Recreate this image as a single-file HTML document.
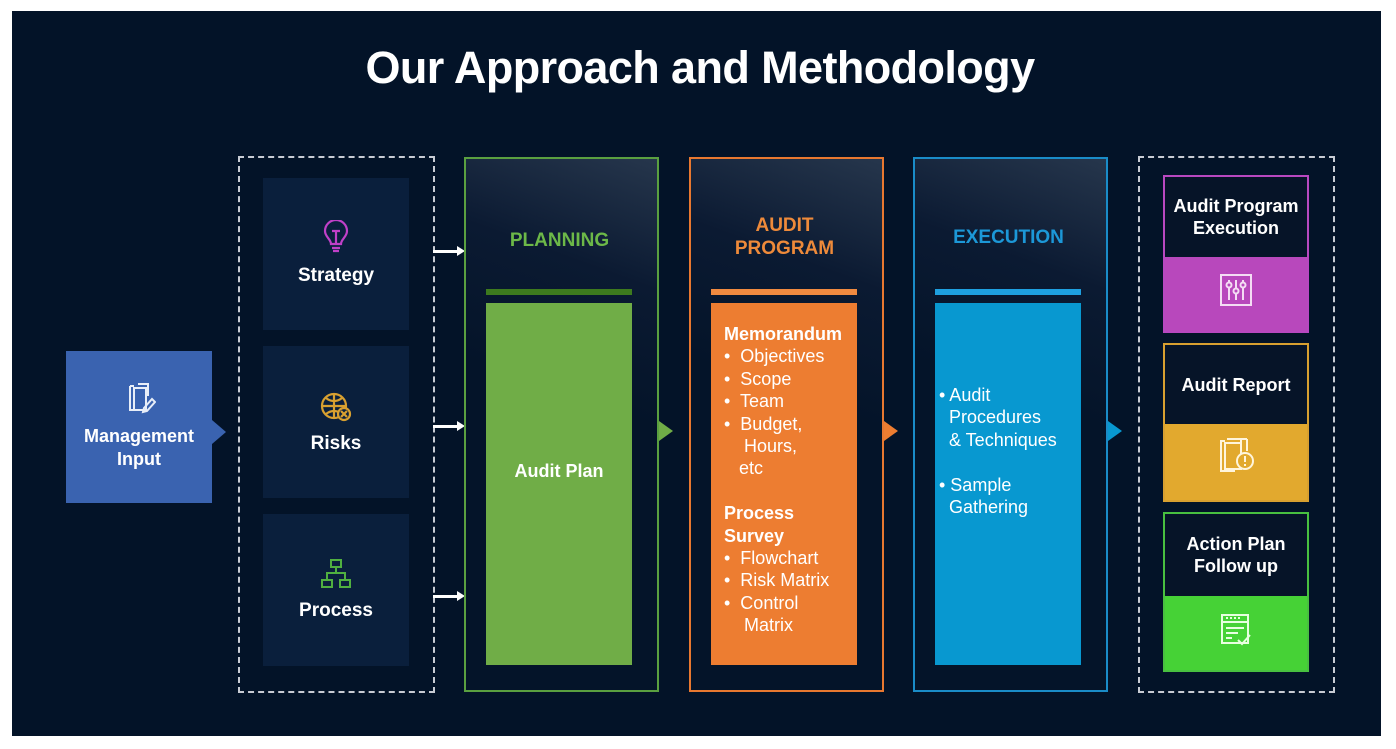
<!DOCTYPE html>
<html><head><meta charset="utf-8"><style>
*{margin:0;padding:0;box-sizing:border-box}
body{width:1396px;height:749px;background:#fff;position:relative;overflow:hidden;font-family:"Liberation Sans",sans-serif;color:#fff}
.a{position:absolute}
.bg{left:12px;top:11px;width:1369px;height:725px;background:#031328}
.t{left:0;width:1400px;top:42px;text-align:center;font-size:45px;font-weight:bold;letter-spacing:-0.6px}
.dash{border:2px dashed #c8ccd4}
.in{background:#0a1f3c;width:146px;height:152px;text-align:center;font-weight:bold;font-size:19px}
.col{width:195px;height:535px;top:157px;border:2px solid;background:linear-gradient(200deg,#26364c 0%,#0b1a32 22%,#041429 45%)}
.hd{width:195px;text-align:center;font-weight:bold;font-size:19px}
.bar{width:146px;height:6px;top:289px}
.box{width:146px;top:303px;height:362px}
.rb{left:1163px;width:146px;border:2px solid;background:#061428}
.rh{position:absolute;left:0;right:0;top:0;display:flex;align-items:center;justify-content:center;text-align:center;font-weight:bold;font-size:18px;line-height:22px}
.tri{width:0;height:0;border-top:10px solid transparent;border-bottom:10px solid transparent;border-left:14px solid}
.arr{height:3px;width:26px;background:#fff}
.arr:after{content:"";position:absolute;right:-6px;top:-4px;border-top:5.5px solid transparent;border-bottom:5.5px solid transparent;border-left:8px solid #fff}
.txt{font-size:18px;line-height:22.4px}
</style></head><body>
<div class="a bg"></div>
<div class="a t">Our Approach and Methodology</div>

<div class="a" style="left:66px;top:351px;width:146px;height:152px;background:#3a63b0"></div>
<div class="a tri" style="left:212px;top:420px;border-left-color:#3a63b0;border-top-width:12px;border-bottom-width:12px"></div>
<svg class="a" style="left:126px;top:382px" width="30" height="32" viewBox="0 0 30 32" fill="none" stroke="#e8eef8" stroke-width="2"><path d="M4 4h4M4 4v24h8M12 2h10v12M22 2v4"/><rect x="8" y="6" width="12" height="22"/><path d="M18 26l8-9 3 3-8 9-4 1z"/></svg>
<div class="a" style="left:66px;top:425px;width:146px;text-align:center;font-weight:bold;font-size:18px;line-height:23px">Management<br>Input</div>

<div class="a dash" style="left:238px;top:156px;width:197px;height:537px"></div>
<div class="a in" style="left:263px;top:178px"><div style="margin-top:87px">Strategy</div></div>
<div class="a in" style="left:263px;top:346px"><div style="margin-top:87px">Risks</div></div>
<div class="a in" style="left:263px;top:514px"><div style="margin-top:86px">Process</div></div>
<svg class="a" style="left:322px;top:220px" width="28" height="34" viewBox="0 0 28 34" fill="none" stroke="#c040c8" stroke-width="2.2"><path d="M9 24c0-5-6-7-6-13a11 11 0 0 1 22 0c0 6-6 8-6 13z"/><path d="M10 28h8M11 31h6M10 11h8M14 11v13"/></svg>
<svg class="a" style="left:319px;top:391px" width="34" height="32" viewBox="0 0 34 32" fill="none" stroke="#d8a030" stroke-width="2.2"><circle cx="15" cy="15" r="12"/><path d="M3 15h24M15 3v24M7 7c5 4 11 4 16 0M7 23c5-4 11-4 16 0"/><circle cx="25" cy="23" r="6" fill="#0a1f3c"/><path d="M22 20l6 6M28 20l-6 6"/></svg>
<svg class="a" style="left:320px;top:558px" width="32" height="32" viewBox="0 0 32 32" fill="none" stroke="#50b040" stroke-width="2"><rect x="11" y="2" width="10" height="7"/><rect x="2" y="22" width="10" height="7"/><rect x="20" y="22" width="10" height="7"/><path d="M16 9v6M7 22v-7h18v7"/></svg>

<div class="a arr" style="left:433px;top:250px"></div>
<div class="a arr" style="left:433px;top:425px"></div>
<div class="a arr" style="left:433px;top:595px"></div>

<div class="a col" style="left:464px;border-color:#5aa040"></div>
<div class="a hd" style="left:462px;top:230px;color:#6cb848">PLANNING</div>
<div class="a bar" style="left:486px;background:#3d7a1e"></div>
<div class="a box" style="left:486px;background:#70ad47"></div>
<div class="a" style="left:486px;top:461px;width:146px;text-align:center;font-weight:bold;font-size:18px">Audit Plan</div>
<div class="a tri" style="left:659px;top:421px;border-left-color:#70ad47"></div>

<div class="a col" style="left:689px;border-color:#e87830"></div>
<div class="a hd" style="left:687px;top:214px;color:#ee8a3a;line-height:23px">AUDIT<br>PROGRAM</div>
<div class="a bar" style="left:711px;background:#f08a40"></div>
<div class="a box" style="left:711px;background:#ed7d31"></div>
<div class="a txt" style="left:724px;top:323px;white-space:nowrap"><b>Memorandum</b><br>•&nbsp; Objectives<br>•&nbsp; Scope<br>•&nbsp; Team<br>•&nbsp; Budget,<br>&nbsp;&nbsp;&nbsp; Hours,<br>&nbsp;&nbsp; etc<br><br><b>Process<br>Survey</b><br>•&nbsp; Flowchart<br>•&nbsp; Risk Matrix<br>•&nbsp; Control<br>&nbsp;&nbsp;&nbsp; Matrix</div>
<div class="a tri" style="left:884px;top:421px;border-left-color:#ed7d31"></div>

<div class="a col" style="left:913px;border-color:#1a8cc8"></div>
<div class="a hd" style="left:911px;top:227px;color:#1c98d8">EXECUTION</div>
<div class="a bar" style="left:935px;background:#1ea0e0"></div>
<div class="a box" style="left:935px;background:#0898d0"></div>
<div class="a txt" style="left:939px;top:384px;white-space:nowrap">• Audit<br>&nbsp; Procedures<br>&nbsp; &amp; Techniques<br><br>• Sample<br>&nbsp; Gathering</div>
<div class="a tri" style="left:1108px;top:421px;border-left-color:#0898d0"></div>

<div class="a dash" style="left:1138px;top:156px;width:197px;height:537px"></div>
<div class="a rb" style="top:175px;height:158px;border-color:#b848c0"><div class="rh" style="height:80px">Audit Program<br>Execution</div><div class="a" style="left:0;right:0;top:80px;bottom:0;background:#b848bc"></div></div>
<svg class="a" style="left:1219px;top:273px" width="34" height="34" viewBox="0 0 34 34" fill="none" stroke="#f4dcf4" stroke-width="2"><rect x="2" y="2" width="30" height="30"/><path d="M10 7v20M17 7v20M24 7v20"/><circle cx="10" cy="12" r="2.5" fill="#b848bc"/><circle cx="17" cy="18" r="2.5" fill="#b848bc"/><circle cx="24" cy="12" r="2.5" fill="#b848bc"/></svg>
<div class="a rb" style="top:343px;height:159px;border-color:#d8a030"><div class="rh" style="height:79px">Audit Report</div><div class="a" style="left:0;right:0;top:79px;bottom:0;background:#e2a92e"></div></div>
<svg class="a" style="left:1219px;top:437px" width="36" height="36" viewBox="0 0 36 36" fill="none" stroke="#fff5dc" stroke-width="2"><path d="M6 4H2v30h14M8 2h14v4M28 2v12M22 2h6"/><rect x="6" y="6" width="16" height="26"/><circle cx="26" cy="24" r="8" fill="#e2a92e"/><path d="M26 19v6M26 27v2"/></svg>
<div class="a rb" style="top:512px;height:160px;border-color:#48c040"><div class="rh" style="height:82px">Action Plan<br>Follow up</div><div class="a" style="left:0;right:0;top:82px;bottom:0;background:#46d236"></div></div>
<svg class="a" style="left:1219px;top:613px" width="34" height="34" viewBox="0 0 34 34" fill="none" stroke="#e8ffe0" stroke-width="2"><rect x="3" y="2" width="26" height="28"/><path d="M3 9h26M7 5h2M11 5h2M15 5h2M19 5h2M7 15h18M7 20h12M7 25h6M19 27l4 4 8-9"/></svg>
</body></html>
